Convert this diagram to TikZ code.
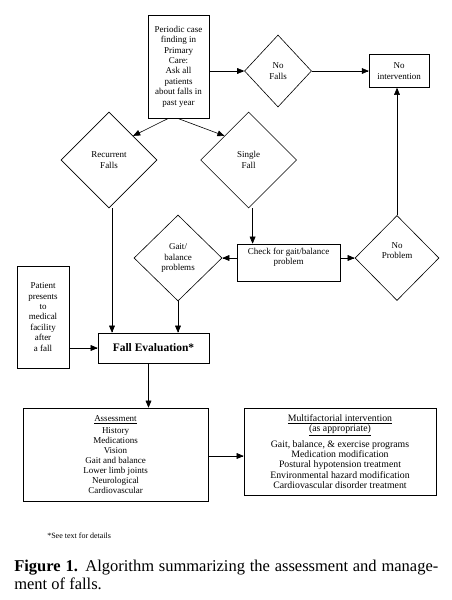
\documentclass[tikz,border=0pt]{standalone}
\usepackage{fontspec}
\setmainfont{Liberation Serif}
\usetikzlibrary{positioning}
\usetikzlibrary{arrows}
\usetikzlibrary{shapes.geometric}

\begin{document}
\begin{tikzpicture}[x=1pt, y=-1pt, >=triangle 45, line width=0.6pt,
	box/.style={draw, align=center, inner sep=1pt, font=\fontsize{9}{10.4}\selectfont},
	decision/.style={draw, diamond, inner sep=0pt, align=center, font=\fontsize{9}{10.4}\selectfont}]
			\useasboundingbox (0,0) rectangle (452,600);
			
			\node[box, minimum width=61pt, minimum height=103pt] (P) at (178.5,66.5) {Periodic case\\finding in\\Primary\\Care:\\Ask all\\patients\\about falls in\\past year};
			\node[decision, minimum width=67pt, minimum height=72pt] (NF) at (278,71) {No\\Falls};
			\node[box, minimum width=60pt, minimum height=33pt, right = 57pt of NF] (NI) {No\\intervention};
			
			\node[decision, minimum width=96pt, minimum height=96pt] (RF) at (109,160) {Recurrent\\Falls};
			\node[decision, minimum width=96pt, minimum height=96pt, right = 43pt of RF] (SF) {Single\\Fall};
			
			\node[box, minimum width=103pt, minimum height=37pt] (CK) at (288.5,262.5) {Check for gait/balance\\problem\\[2pt]};
			\node[decision, minimum width=88pt, minimum height=86pt] (GB) at (178,258) {Gait/\\balance\\problems};
			\node[decision, minimum width=84pt, minimum height=85pt] (NP) at (397,258) {No\\Problem\\[4pt]};
			
			\node[box, minimum width=52pt, minimum height=102pt] (PT) at (43,317) {Patient\\presents\\to\\medical\\facility\\after\\a fall};
			\node[box, font=\bfseries\fontsize{11.5}{13}\selectfont, minimum width=111pt, minimum height=30pt] (FE) at (153.5,348) {Fall Evaluation*};
			
			\node[box, font=\fontsize{9}{10}\selectfont, minimum width=185pt, minimum height=93pt] (AS) at (115.5,454.5) {\underline{Assessment}\\[2pt]History\\Medications\\Vision\\Gait and balance\\Lower limb joints\\Neurological\\Cardiovascular};
			\node[box, font=\fontsize{9.8}{10.2}\selectfont, minimum width=192pt, minimum height=87pt] (MI) at (340,451.5) {\underline{Multifactorial intervention}\\\underline{(as appropriate)}\\[4pt]Gait, balance, \& exercise programs\\Medication modification\\Postural hypotension treatment\\Environmental hazard modification\\Cardiovascular disorder treatment};
			
			\node[font=\fontsize{8}{9}\selectfont, anchor=base west, inner sep=0pt] (N) at (47,538) {*See text for details};
			% caption: base anchor sits on its last line
			\node[font=\fontsize{16.5}{17.5}\selectfont, anchor=base west, align=left, inner sep=0pt] (C) at (14,589) {\makebox[424pt][s]{\textbf{Figure 1.} Algorithm summarizing the assessment and manage-}\\ment of falls.};
			
			\draw[->] (P.east |- NF.west) -- (NF.west);
			\draw[->] (NF.east) -- (NI.west);
			\draw[->] ([xshift=-10pt]P.south) -- (RF.north east);
			\draw[->] ([xshift=-1pt]P.south) -- (SF.north west);
			\draw[->] ([xshift=4pt]SF.south) -- ([xshift=4pt]SF.south |- CK.north);
			\draw[->] (CK.west |- GB.east) -- (GB.east);
			\draw[->] (CK.east |- NP.west) -- (NP.west);
			\draw[->] (NP.north) -- (NP.north |- NI.south);
			\draw[->] ([xshift=3pt]RF.south) -- ([xshift=3pt]RF.south |- FE.north);
			\draw[->] (GB.south) -- (GB.south |- FE.north);
			\draw[->] (PT.east |- FE.west) -- (FE.west);
			\draw[->] ([xshift=-5pt]FE.south) -- ([xshift=-5pt]FE.south |- AS.north);
			\draw[->] (AS.east |- 0,456) -- (MI.west |- 0,456);
			\end{tikzpicture}
\end{document}
